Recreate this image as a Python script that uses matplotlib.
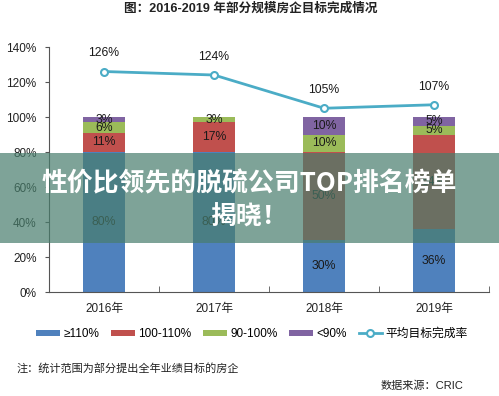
import matplotlib.pyplot as plt
import matplotlib.patches as mpatches
import numpy as np

plt.rcParams['font.family'] = ['Liberation Sans', 'Noto Sans CJK SC', 'DejaVu Sans']

years = ['2016年', '2017年', '2018年', '2019年']
above_110 = [80, 80, 30, 36]
r100_110 = [11, 17, 50, 54]
r90_100 = [6, 3, 10, 5]
below_90 = [3, 0, 10, 5]
avg_rate = [126, 124, 105, 107]

series = [('≥110%', above_110, '#4f81bd'),
          ('100-110%', r100_110, '#c0504d'),
          ('90-100%', r90_100, '#9bbb59'),
          ('<90%', below_90, '#8064a2')]

fig = plt.figure(figsize=(4.99, 3.96), dpi=100)
ax = fig.add_axes([0.0982, 0.2626, 0.8818, 0.6187])

x = np.arange(len(years))
bottom = np.zeros(len(years))
for name, vals, col in series:
    ax.bar(x, vals, 0.39, bottom=bottom, color=col, label=name, zorder=2)
    for i, v in enumerate(vals):
        if v > 0:
            ax.text(x[i], bottom[i] + v / 2, f'{v}%', ha='center', va='center',
                    fontsize=8.8, color='#1a1a1a', zorder=3)
    bottom += np.array(vals)

ax.plot(x, avg_rate, color='#4bacc6', lw=2, marker='o', ms=5,
        mfc='white', mec='#4bacc6', mew=1.5, label='平均目标完成率', zorder=4)
for i, v in enumerate(avg_rate):
    ax.text(x[i], v + 7, f'{v}%', ha='center', va='bottom', fontsize=8.8, color='#1a1a1a')

ax.set_xlim(-0.5, 3.5)
ax.set_ylim(0, 140)
ax.set_yticks(range(0, 141, 20))
ax.set_yticklabels([f'{t}%' for t in range(0, 141, 20)], fontsize=8.5, color='#222222')
ax.set_xticks(x)
ax.set_xticklabels(years, fontsize=8.5, color='#222222')
ax.tick_params(axis='x', length=0, pad=8)
ax.set_xticks([0.5, 1.5, 2.5, 3.5], minor=True)
ax.tick_params(axis='x', which='minor', direction='in', length=4, color='#555555')
ax.tick_params(axis='y', length=3, color='#555555', pad=6)
for s in ['top', 'right']:
    ax.spines[s].set_visible(False)
for s in ['left', 'bottom']:
    ax.spines[s].set_color('#555555')

fig.text(0.503, 1 - 9 / 396, '图：2016-2019 年部分规模房企目标完成情况', ha='center', va='center',
         fontsize=9.1, fontweight='bold', color='#222222')

handles, labels = ax.get_legend_handles_labels()
order = [1, 2, 3, 4, 0]
fig.legend([handles[i] for i in order], [labels[i] for i in order],
           loc='center', bbox_to_anchor=(0.505, 1 - 334 / 396), ncol=5, frameon=False,
           fontsize=8.5, handlelength=2.0, handleheight=0.45, handletextpad=0.3,
           columnspacing=1.0)

fig.text(17 / 499, 1 - 368 / 396, '注：统计范围为部分提出全年业绩目标的房企', ha='left', va='center',
         fontsize=8, color='#222222')
fig.text(463 / 499, 1 - 386 / 396, '数据来源：CRIC', ha='right', va='center',
         fontsize=8, color='#222222')

# overlay banner
fig.add_artist(mpatches.Rectangle((0, 1 - 243 / 396), 1, 90 / 396, transform=fig.transFigure,
                                  facecolor='#487d6c', alpha=0.7, edgecolor='none', zorder=10))
fig.text(0.5, 1 - 184 / 396, '性价比领先的脱硫公司TOP排名榜单', ha='center', va='center',
         fontsize=18.6, fontweight='bold', color='white', zorder=11,
         family=['Noto Sans CJK SC', 'DejaVu Sans'])
fig.text(0.5, 1 - 217 / 396, '揭晓！', ha='center', va='center',
         fontsize=18.6, fontweight='bold', color='white', zorder=11,
         family=['Noto Sans CJK SC', 'DejaVu Sans'])

fig.savefig('out.png', dpi=100)
